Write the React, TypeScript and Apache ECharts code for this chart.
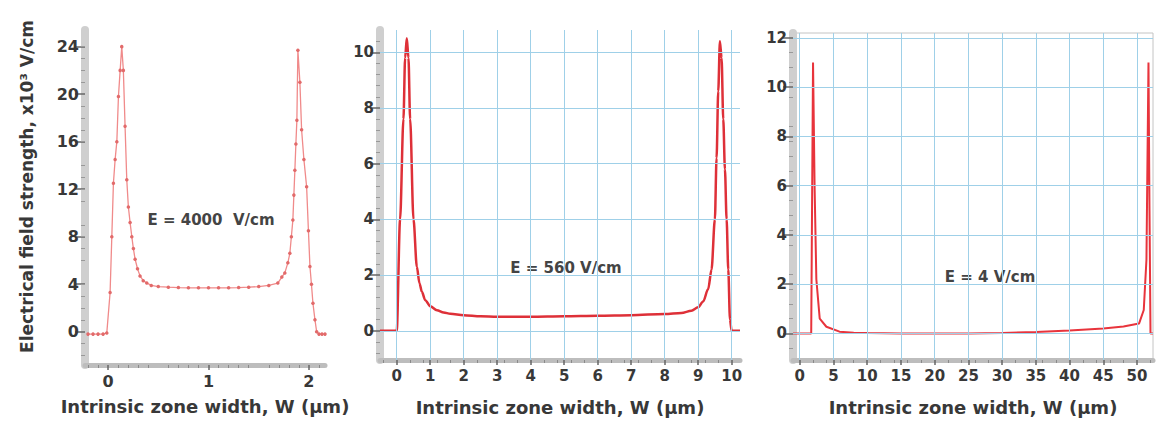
import React, { useEffect, useRef } from "react";
import * as echarts from "echarts";

// Panel 1: E = 4000 V/cm (x in µm, y in 10^3 V/cm)
const w1 = [-0.2, -0.15, -0.1, -0.05, -0.013, 0.02, 0.037, 0.053, 0.07, 0.087, 0.103, 0.12, 0.136, 0.152, 0.169, 0.186, 0.202, 0.219, 0.236, 0.252, 0.269, 0.293, 0.318, 0.35, 0.385, 0.43, 0.5, 0.6, 0.7, 0.8, 0.9, 1.0, 1.1, 1.2, 1.3, 1.4, 1.5, 1.6, 1.69, 1.73, 1.76, 1.79, 1.81, 1.825, 1.84, 1.85, 1.86, 1.87, 1.88, 1.89, 1.91, 1.927, 1.95, 1.977, 1.995, 2.01, 2.025, 2.04, 2.06, 2.077, 2.1, 2.13, 2.16];
const e1 = [-0.2, -0.2, -0.2, -0.2, -0.1, 3.3, 8, 12.5, 14.5, 16, 19.8, 22, 24, 22, 17.3, 12.8, 10.5, 9.2, 8, 7, 6.1, 5.3, 4.7, 4.3, 4.1, 3.9, 3.8, 3.75, 3.72, 3.7, 3.7, 3.7, 3.7, 3.7, 3.72, 3.75, 3.8, 3.9, 4.1, 4.6, 4.95, 5.8, 6.6, 8, 9.4, 11.5, 13.6, 15.8, 17.8, 23.7, 21, 17, 14.5, 12.2, 8.5, 5.5, 4, 2.4, 1, 0, -0.2, -0.2, -0.2];

// Panel 2: E = 560 V/cm
const w2 = [-0.5, -0.2, 0.0, 0.1, 0.2, 0.25, 0.3, 0.35, 0.4, 0.5, 0.6, 0.68, 0.75, 0.85, 1.0, 1.2, 1.4, 1.6, 2, 2.5, 3, 4, 5, 6, 7, 8, 8.5, 8.8, 9.0, 9.15, 9.3, 9.4, 9.5, 9.55, 9.6, 9.65, 9.7, 9.75, 9.8, 9.85, 9.9, 9.95, 10.0, 10.25];
const e2 = [0, 0, 0, 4.0, 7.6, 9.8, 10.5, 9.8, 7.6, 4.0, 2.3, 1.7, 1.4, 1.1, 0.88, 0.74, 0.66, 0.61, 0.56, 0.52, 0.5, 0.5, 0.52, 0.54, 0.56, 0.6, 0.64, 0.72, 0.84, 1.05, 1.5, 2.2, 4.0, 6.2, 8.6, 10.4, 9.8, 7.6, 5.8, 4.0, 2.2, 0.4, 0, 0];

// Panel 3: E = 4 V/cm
const w3 = [-1, 1.7, 1.97, 2.2, 2.46, 2.96, 3.95, 5.9, 8, 10, 15, 20, 25, 30, 35, 40, 45, 48, 50.3, 51, 51.4, 51.7, 51.85, 52.0, 52.37];
const e3 = [0, 0, 11, 6, 2.2, 0.6, 0.27, 0.07, 0.03, 0.02, 0, 0, 0, 0.02, 0.06, 0.12, 0.2, 0.28, 0.4, 0.95, 3, 11, 5, 0, 0];

const xTicks1 = [0, 1, 2];
const yTicks1 = [0, 4, 8, 12, 16, 20, 24];
const xTicks2 = [0, 1, 2, 3, 4, 5, 6, 7, 8, 9, 10];
const yTicks2 = [0, 2, 4, 6, 8, 10];
const xTicks3 = [0, 5, 10, 15, 20, 25, 30, 35, 40, 45, 50];
const yTicks3 = [0, 2, 4, 6, 8, 10, 12];

const annotations = ["E = 4000  V/cm", "E = 560 V/cm", "E = 4 V/cm"];
const xName = "Intrinsic zone width, W (µm)";
const yName = "Electrical field strength, x10³ V/cm";

const zip = (a: number[], b: number[]) => a.map((v, i) => [v, b[i]]);

const FONT = "DejaVu Sans";
const LABEL_COLOR = "#383838";
const GRID_BLUE = "#9fd0e8";

function xAxisCfg(idx: number, min: number, max: number, ticks: number[], gap: number, fs: number) {
  return {
    type: "value",
    gridIndex: idx,
    min,
    max,
    name: xName,
    nameLocation: "middle",
    nameGap: gap,
    nameTextStyle: { fontFamily: FONT, fontWeight: "bold", fontSize: 18, color: LABEL_COLOR },
    axisLine: { show: true, onZero: false, lineStyle: { color: "#bdbdbd", width: 5 } },
    axisTick: { show: true, customValues: ticks, length: 5, inside: false, lineStyle: { color: "#666", width: 1.5 } },
    minorTick: { show: true, splitNumber: 5, length: 3, lineStyle: { color: "#8a8a8a" } },
    axisLabel: { customValues: ticks, fontFamily: FONT, fontWeight: "bold", fontSize: fs, color: LABEL_COLOR, margin: 8 },
    splitLine: { show: false },
  };
}

function yAxisCfg(idx: number, min: number, max: number, ticks: number[], fs: number, withName: boolean) {
  return {
    type: "value",
    gridIndex: idx,
    min,
    max,
    name: withName ? yName : "",
    nameLocation: "middle",
    nameGap: 50,
    nameTextStyle: { fontFamily: FONT, fontWeight: "bold", fontSize: 17, color: LABEL_COLOR, padding: [0, 0, 0, 22] },
    axisLine: { show: true, onZero: false, lineStyle: { color: "#cfcfcf", width: 8 } },
    axisTick: { show: true, customValues: ticks, length: 10, lineStyle: { color: "#666", width: 1.5 } },
    minorTick: { show: true, splitNumber: 5, length: 4, lineStyle: { color: "#999" } },
    axisLabel: { customValues: ticks, fontFamily: FONT, fontWeight: "bold", fontSize: fs, color: LABEL_COLOR, margin: 6 },
    splitLine: { show: false },
  };
}

function gridLines(idx: number, xt: number[], yt: number[]) {
  return {
    type: "line",
    xAxisIndex: idx,
    yAxisIndex: idx,
    data: [],
    z: 1,
    silent: true,
    markLine: {
      silent: true,
      symbol: "none",
      animation: false,
      label: { show: false },
      lineStyle: { color: GRID_BLUE, width: 1, type: "solid" },
      data: [...xt.map((v) => ({ xAxis: v })), ...yt.map((v) => ({ yAxis: v }))],
    },
  };
}

export default function App() {
  const ref = useRef<HTMLDivElement>(null);
  useEffect(() => {
    if (!ref.current) return;
    const chart = echarts.init(ref.current, null, { renderer: "svg" });
    chart.setOption({
      animation: false,
      backgroundColor: "#ffffff",
      grid: [
        { left: 85, top: 30, width: 240, height: 335 },
        { left: 380, top: 30, width: 360, height: 330 },
        { left: 793, top: 33, width: 360, height: 327, show: true, borderColor: "#c4c4c4", borderWidth: 1, backgroundColor: "transparent" },
      ],
      xAxis: [
        xAxisCfg(0, -0.23, 2.16, xTicks1, 32, 16),
        xAxisCfg(1, -0.5, 10.25, xTicks2, 38, 15),
        xAxisCfg(2, -1, 52.37, xTicks3, 38, 15),
      ],
      yAxis: [
        yAxisCfg(0, -2.8, 25.4, yTicks1, 16, true),
        yAxisCfg(1, -1.05, 10.8, yTicks2, 15, false),
        yAxisCfg(2, -1.08, 12.2, yTicks3, 15, false),
      ],
      series: [
        gridLines(1, xTicks2, yTicks2),
        gridLines(2, xTicks3, yTicks3),
        {
          type: "line",
          xAxisIndex: 0,
          yAxisIndex: 0,
          data: zip(w1, e1),
          z: 3,
          showSymbol: true,
          symbol: "circle",
          symbolSize: 3.5,
          itemStyle: { color: "#e26a6a" },
          lineStyle: { color: "#f08a8a", width: 1.3 },
        },
        {
          type: "line",
          xAxisIndex: 1,
          yAxisIndex: 1,
          data: zip(w2, e2),
          z: 3,
          showSymbol: false,
          smooth: 0.3,
          smoothMonotone: "x",
          lineStyle: { color: "#de3038", width: 2.5 },
        },
        {
          type: "line",
          xAxisIndex: 2,
          yAxisIndex: 2,
          data: zip(w3, e3),
          z: 3,
          showSymbol: false,
          lineStyle: { color: "#e8343c", width: 2 },
        },
      ],
      graphic: [
        { type: "text", x: 211, y: 220, style: { text: annotations[0], fontFamily: FONT, fontWeight: "bold", fontSize: 15, fill: "#444", align: "center", verticalAlign: "middle" } },
        { type: "text", x: 566, y: 268, style: { text: annotations[1], fontFamily: FONT, fontWeight: "bold", fontSize: 15, fill: "#444", align: "center", verticalAlign: "middle" } },
        { type: "text", x: 990, y: 277, style: { text: annotations[2], fontFamily: FONT, fontWeight: "bold", fontSize: 15, fill: "#444", align: "center", verticalAlign: "middle" } },
      ],
    });
    return () => chart.dispose();
  }, []);
  return (
    <div
      ref={ref}
      style={{ position: "fixed", left: 0, top: 0, width: 1164, height: 421 }}
    />
  );
}
